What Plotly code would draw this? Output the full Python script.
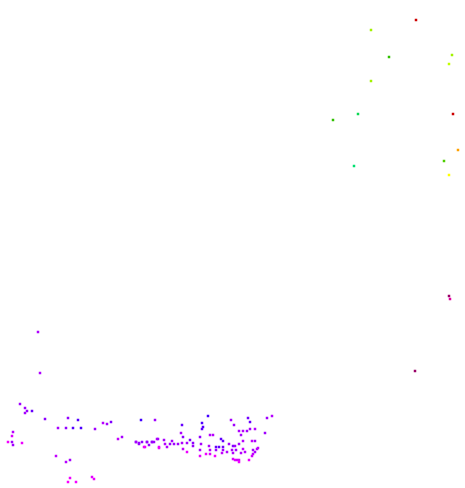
import plotly.graph_objects as go

# Points: x, y (in chart units), and colour value c
x = [416, 371, 389, 452, 449, 371, 358, 333, 453, 458, 444, 354, 449,
     449, 450, 415,
     38, 40,
     20, 25, 27, 25, 32, 45, 68, 78, 58, 66, 73, 81, 95, 103, 107, 111, 141, 155,
     13, 12, 8, 12, 13, 22, 56, 66, 70, 70, 68, 76, 92, 94,
     118, 122, 136, 139, 142, 145, 147, 152, 149, 154, 157, 159,
     208, 248, 267, 272, 182, 202, 203, 202, 231, 234, 250, 250, 255,
     239, 243, 247, 181, 241, 265, 210, 213, 183, 200, 221, 223,
     158, 136, 139, 147, 152, 164, 165, 172, 170, 174, 178, 182, 187, 190,
     193, 193, 201, 209, 216, 219, 223, 229, 233, 235, 239, 243, 252, 255,
     144, 159, 167, 183, 200, 187, 210, 216, 223, 227, 232, 236, 243, 245,
     253, 257, 258, 255, 206, 210, 215, 222, 233, 241, 252, 253, 200,
     233, 235, 237, 239, 249, 239]
y = [20, 30, 57, 55, 64, 81, 114, 120, 114, 150, 161, 166, 175,
     296, 299, 371,
     332, 373,
     404, 408, 411, 413, 411, 419, 418, 420, 428, 428, 428, 428, 429, 423, 424, 422, 420, 420,
     432, 436, 442, 442, 445, 443, 456, 462, 460, 478, 482, 482, 477, 479,
     439, 437, 442, 443, 442, 447, 442, 442, 445, 442, 439, 448,
     416, 418, 418, 416, 425, 423, 427, 429, 420, 425, 422, 429, 429,
     431, 431, 431, 433, 435, 433, 435, 435, 437, 437, 439, 441,
     439, 442, 444, 442, 442, 440, 444, 441, 444, 444, 444, 443, 443, 440,
     443, 446, 444, 446, 447, 447, 447, 444, 446, 446, 444, 441, 441, 441,
     447, 447, 447, 449, 450, 452, 450, 450, 450, 452, 450, 450, 449, 452,
     450, 449, 448, 452, 454, 454, 456, 453, 453, 453, 456, 454, 456,
     459, 460, 460, 460, 460, 462]
c = [0.86, 0.58, 0.5, 0.58, 0.6, 0.58, 0.44, 0.5, 0.86, 0.76, 0.52, 0.42, 0.68,
     0.95, 1.0, 0.95,
     0.13, 0.13,
     0.15, 0.15, 0.16, 0.14, 0.24, 0.18, 0.17, 0.26, 0.14, 0.17, 0.26, 0.27, 0.15, 0.12, 0.14, 0.2, 0.28, 0.15,
     0.12, 0.06, 0.02, 0.15, 0.15, 0.03, 0.1, 0.12, 0.14, 0.03, 0.01, 0.02, 0.05, 0.03,
     0.1, 0.14, 0.18, 0.16, 0.17, 0.03, 0.16, 0.16, 0.16, 0.16, 0.12, 0.02,
     0.28, 0.22, 0.15, 0.12, 0.24, 0.27, 0.26, 0.25, 0.14, 0.15, 0.24, 0.14, 0.12,
     0.13, 0.12, 0.14, 0.13, 0.14, 0.15, 0.12, 0.12, 0.18, 0.17, 0.25, 0.24,
     0.14, 0.14, 0.16, 0.16, 0.16, 0.14, 0.12, 0.14, 0.16, 0.15, 0.15, 0.13, 0.14, 0.2,
     0.18, 0.16, 0.14, 0.13, 0.24, 0.25, 0.22, 0.14, 0.2, 0.15, 0.14, 0.12, 0.1, 0.14,
     0.03, 0.04, 0.12, 0.1, 0.13, 0.03, 0.12, 0.15, 0.14, 0.12, 0.13, 0.14, 0.1, 0.12,
     0.14, 0.12, 0.1, 0.13, 0.03, 0.06, 0.02, 0.1, 0.13, 0.12, 0.08, 0.1, 0.04,
     0.06, 0.05, 0.08, 0.07, 0.03, 0.02]

colorscale = [[0.0, '#ff00ff'], [0.08, '#d000ff'], [0.15, '#a000ff'],
              [0.25, '#6000ff'], [0.3, '#3000ff'],
              [0.42, '#00e070'], [0.5, '#30c000'], [0.6, '#c0ff00'],
              [0.68, '#ffff00'], [0.76, '#ffa000'], [0.86, '#cc0000'],
              [0.95, '#990066'], [1.0, '#e000a0']]

fig = go.Figure(go.Scatter(
    x=x, y=y, mode='markers',
    marker=dict(symbol='square', size=2.5, color=c, colorscale=colorscale,
                cmin=0, cmax=1, line=dict(width=0)),
    hoverinfo='skip'))

fig.update_layout(
    width=465, height=488,
    margin=dict(l=0, r=0, t=0, b=0),
    paper_bgcolor='white', plot_bgcolor='white',
    showlegend=False,
    xaxis=dict(range=[0, 465], visible=False),
    yaxis=dict(range=[488, 0], visible=False),
)

fig.write_html("out.html",
               config={"displayModeBar": False},
               post_script="document.body.style.margin='0';document.body.style.padding='0';")
